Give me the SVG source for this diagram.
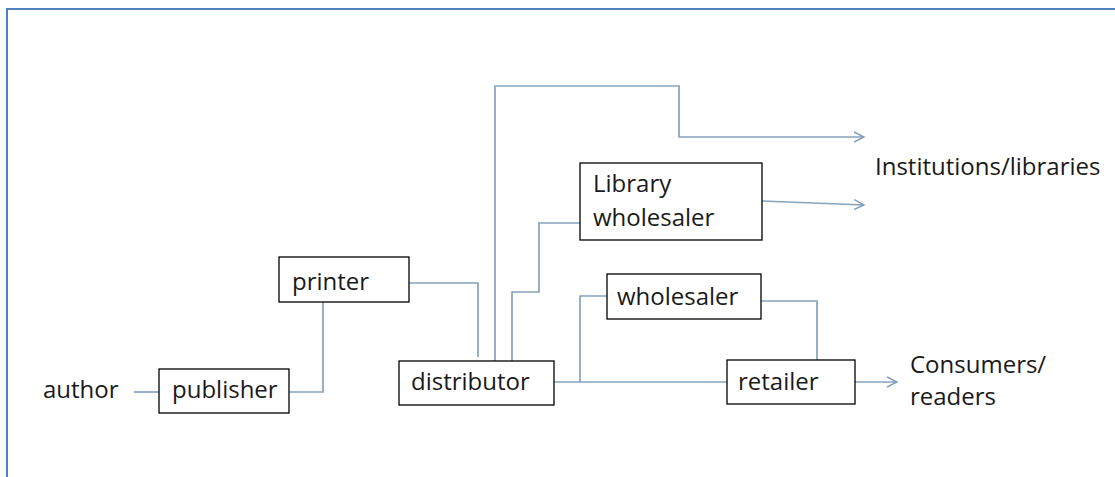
<svg xmlns="http://www.w3.org/2000/svg" width="1115" height="477" viewBox="0 0 1115 477">
<defs>
<marker id="arr" markerWidth="12" markerHeight="12" refX="10" refY="5" orient="auto" markerUnits="userSpaceOnUse" viewBox="0 0 12 10">
<path d="M0,0 L10,5 L0,10" fill="none" stroke="#7f9cba" stroke-width="1.4"/>
</marker>
</defs>
<style>
.box{fill:#ffffff;stroke:#000000;stroke-width:1.3}
.t{font-family:"Open Sans","Liberation Sans",sans-serif;font-size:24px;fill:#1a1a1a}
.c{fill:none;stroke:#86a3bf;stroke-width:1.7}
</style>
<rect x="0" y="0" width="1115" height="477" fill="#ffffff"/>
<path d="M7,477 L7,9 L1115,9" fill="none" stroke="#4f81bd" stroke-width="2"/>
<g id="connectors">
<path class="c" d="M134,392 L159,392"/>
<path class="c" d="M289,392 L323,392 L323,302"/>
<path class="c" d="M409,283 L478,283 L478,357"/>
<path class="c" d="M495,361 L495,86 L679,86 L679,137 L864,137" marker-end="url(#arr)"/>
<path class="c" d="M512,361 L512,292 L539,292 L539,223 L580,223"/>
<path class="c" d="M762,201 L864,205" marker-end="url(#arr)"/>
<path class="c" d="M554,382 L727,382"/>
<path class="c" d="M580,382 L580,296 L607,296"/>
<path class="c" d="M761,301 L817,301 L817,364"/>
<path class="c" d="M855,382 L897,382" marker-end="url(#arr)"/>
</g>
<g id="author"><text class="t" x="43" y="398">author</text></g>
<g id="publisher"><rect class="box" x="159" y="369" width="130" height="44"/><text class="t" x="172" y="398">publisher</text></g>
<g id="printer"><rect class="box" x="279" y="257" width="130" height="45"/><text class="t" x="292" y="290">printer</text></g>
<g id="distributor"><rect class="box" x="399" y="361" width="155" height="44"/><text class="t" x="411" y="390">distributor</text></g>
<g id="library-wholesaler"><rect class="box" x="580" y="163" width="182" height="77"/><text class="t" x="593" y="192">Library</text><text class="t" x="593" y="226">wholesaler</text></g>
<g id="wholesaler"><rect class="box" x="607" y="274" width="154" height="45"/><text class="t" x="617" y="305">wholesaler</text></g>
<g id="retailer"><rect class="box" x="727" y="360" width="128" height="44"/><text class="t" x="738" y="390">retailer</text></g>
<g id="institutions"><text class="t" x="875" y="175">Institutions/libraries</text></g>
<g id="consumers"><text class="t" x="910" y="373">Consumers/</text><text class="t" x="910" y="405">readers</text></g>
</svg>
